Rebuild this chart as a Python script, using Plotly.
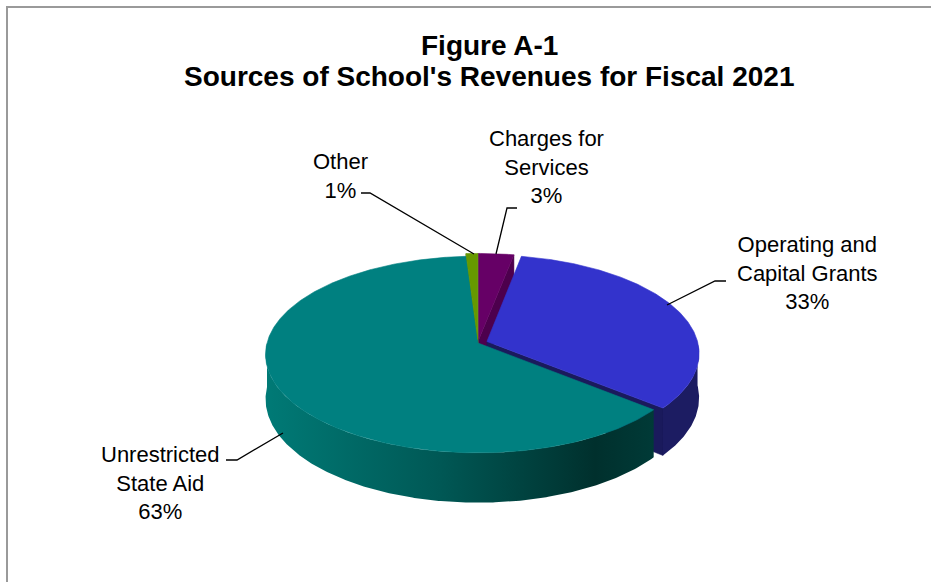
import numpy as np
import plotly.graph_objects as go

# ---------------- data ----------------
categories = ["Charges for Services", "Operating and Capital Grants",
              "Unrestricted State Aid", "Other"]
label_lines = ["Charges for<br>Services", "Operating and<br>Capital Grants",
               "Unrestricted<br>State Aid", "Other"]
shares = [3, 33, 63, 1]          # percent of revenues

title_line1 = "Figure A-1"
title_line2 = "Sources of School's Revenues for Fiscal 2021"

# ---------------- style ----------------
top_colors = ["#660066", "#3333CC", "#008080", "#669900"]
wall_colors = ["#4a004a", "#1c1c62", "#005a57", "#4d7000"]
face_colors = ["#4d004d", "#1a1a5c", "#004f4c", "#4a6e00"]
explode = [0.035, 0.045, 0.0, 0.035]
wall_gradient = {2: [[0, "#007a76"], [0.45, "#005855"], [0.85, "#00302d"], [1, "#003a37"]]}

CX, CY, RX, RY, K, DEPTH = 478, 343, 211, 97, 0.117, 44
FONT = "Arial, Liberation Sans, sans-serif"

label_pos = [(546, 166.5), (807, 273), (160, 483), (340, 175.5)]
leader_paths = [
    [(517, 208), (507, 208), (496, 254)],
    [(726, 281), (715, 281), (667, 305)],
    [(226, 460), (237, 460), (283, 433)],
    [(361, 193), (370, 193), (474, 254)],
]


def proj(u, v, z):
    u = np.asarray(u, float)
    v = np.asarray(v, float)
    s = 1.0 / (1.0 + K * v)
    return CX + RX * u * s, CY - RY * v * s + DEPTH * z * s


def signed_area(xs, ys):
    return sum(xs[i] * ys[(i + 1) % len(xs)] - xs[(i + 1) % len(xs)] * ys[i]
               for i in range(len(xs)))


total = float(sum(shares))
bounds = np.concatenate([[0], np.cumsum(shares)]) / total * 360.0

faces, walls, tops = [], [], []
for i, val in enumerate(shares):
    a0, a1 = bounds[i], bounds[i + 1]
    mid = np.radians((a0 + a1) / 2)
    ou, ov = explode[i] * np.sin(mid), explode[i] * np.cos(mid)

    # top surface
    th = np.radians(np.linspace(a0, a1, max(4, int((a1 - a0) * 2))))
    tu = np.concatenate([[ou], ou + np.sin(th), [ou]])
    tv = np.concatenate([[ov], ov + np.cos(th), [ov]])
    x, y = proj(tu, tv, 0)
    tops.append(go.Scatter(x=x, y=y, mode="lines", fill="toself",
                           fillcolor=top_colors[i],
                           line=dict(color=top_colors[i], width=0.6),
                           hoverinfo="skip"))

    # outer wall (front half only)
    lo, hi = max(a0, 90), min(a1, 270)
    if hi > lo:
        th = np.radians(np.linspace(lo, hi, max(4, int((hi - lo) * 2))))
        xt, yt = proj(ou + np.sin(th), ov + np.cos(th), 0)
        xb, yb = proj(ou + np.sin(th[::-1]), ov + np.cos(th[::-1]), 1)
        xw = np.concatenate([xt, xb, xt[:1]])
        yw = np.concatenate([yt, yb, yt[:1]])
        kw = dict(fillcolor=wall_colors[i], line=dict(width=0))
        if i in wall_gradient:
            kw["fillgradient"] = dict(type="horizontal", colorscale=wall_gradient[i])
        walls.append(go.Scatter(x=xw, y=yw, mode="lines", fill="toself",
                                hoverinfo="skip", **kw))

    # cut faces
    for ang, is_end in ((a0, False), (a1, True)):
        r = np.radians(ang)
        vt = proj(ou, ov, 0)
        vb = proj(ou, ov, 1)
        rt = proj(ou + np.sin(r), ov + np.cos(r), 0)
        rb = proj(ou + np.sin(r), ov + np.cos(r), 1)
        pts = [vt, rt, rb, vb] if is_end else [vt, vb, rb, rt]
        xs = [float(p[0]) for p in pts]
        ys = [float(p[1]) for p in pts]
        if signed_area(xs, ys) > 0:
            faces.append(go.Scatter(x=xs + xs[:1], y=ys + ys[:1], mode="lines",
                                    fill="toself", fillcolor=face_colors[i],
                                    line=dict(color=face_colors[i], width=0.5),
                                    hoverinfo="skip"))

fig = go.Figure(faces + walls + tops)

# leader lines and labels
for i, cat in enumerate(categories):
    px = [p[0] for p in leader_paths[i]]
    py = [p[1] for p in leader_paths[i]]
    fig.add_trace(go.Scatter(x=px, y=py, mode="lines",
                             line=dict(color="black", width=1.3),
                             hoverinfo="skip"))
    fig.add_annotation(x=label_pos[i][0], y=label_pos[i][1],
                       text=f"{label_lines[i]}<br>{shares[i]}%",
                       showarrow=False, xanchor="center", yanchor="middle",
                       align="center", font=dict(family=FONT, size=22, color="black"))

fig.add_annotation(x=489, y=45, text=f"<b>{title_line1}</b>", showarrow=False,
                   xanchor="center", yanchor="middle",
                   font=dict(family=FONT, size=28, color="black"))
fig.add_annotation(x=489, y=76, text=f"<b>{title_line2}</b>", showarrow=False,
                   xanchor="center", yanchor="middle",
                   font=dict(family=FONT, size=28, color="black"))

fig.add_shape(type="rect", xref="x", yref="y", x0=7, y0=7, x1=1000, y1=700,
              line=dict(color="#9a9a9a", width=2), layer="below")

fig.update_layout(
    width=931, height=582,
    margin=dict(l=0, r=0, t=0, b=0),
    paper_bgcolor="white", plot_bgcolor="white",
    showlegend=False, hovermode=False,
    xaxis=dict(range=[0, 931], visible=False, fixedrange=True),
    yaxis=dict(range=[582, 0], visible=False, fixedrange=True),
)

fig.write_html("out.html")
